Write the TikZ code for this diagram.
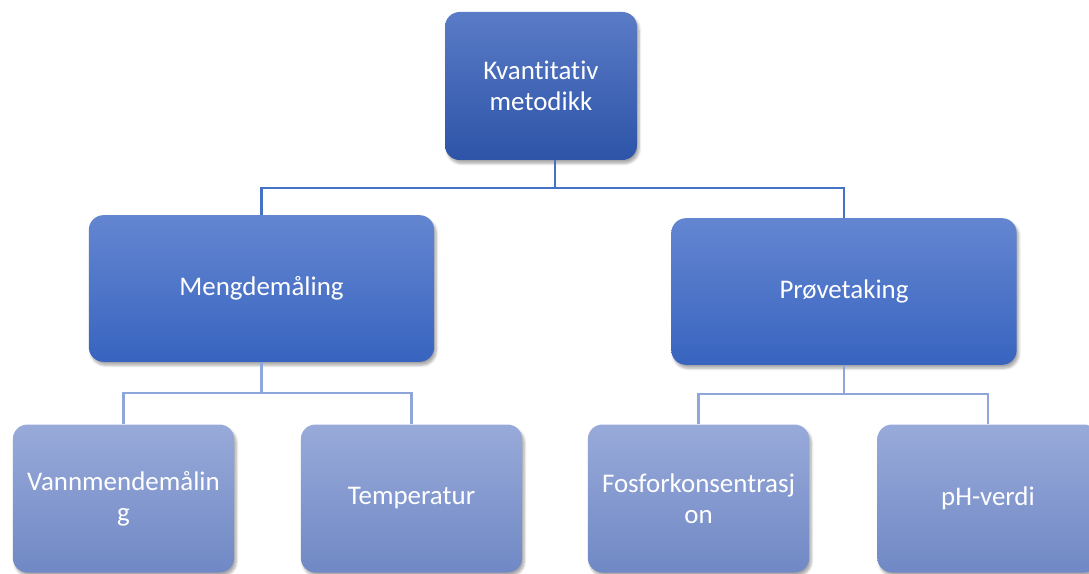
\documentclass[tikz,border=0pt]{standalone}
\usepackage{fontspec}
\setmainfont{Carlito}[Ligatures=NoCommon]
\usetikzlibrary{calc, shadows.blur}
\definecolor{topfill}{HTML}{5A7BC6}
\definecolor{topbase}{HTML}{2D54A8}
\definecolor{midfill}{HTML}{6486D1}
\definecolor{midbase}{HTML}{3864BF}
\definecolor{lowfill}{HTML}{98AAD9}
\definecolor{lowbase}{HTML}{7088C5}
\definecolor{linedark}{HTML}{4472C4}
\definecolor{linelight}{HTML}{8FA6DB}

\tikzset{
  orgbox/.style={rectangle, rounded corners=11pt, align=center, text=white,
    font=\fontsize{20.2}{23.5}\selectfont,
    blur shadow={shadow xshift=1.5pt, shadow yshift=-2.5pt, shadow blur steps=6, shadow opacity=35}},
  headbox/.style={orgbox, top color=topfill, bottom color=topbase,
    minimum width=144pt, minimum height=111pt},
  groupbox/.style={orgbox, top color=midfill, bottom color=midbase,
    minimum width=259pt, minimum height=110pt},
  leafbox/.style={orgbox, top color=lowfill, bottom color=lowbase,
    minimum width=166pt, minimum height=111pt, text width=150pt},
  conn/.style={line width=1.6pt},
}

\begin{document}
\begin{tikzpicture}[x=0.75pt, y=-0.75pt]
  \useasboundingbox (0,0) rectangle (1089,574);
  % Boxes
  \node[headbox] (top) at (541,86) {Kvantitativ\\metodikk};
  \node[groupbox] (meng) at (261.5,288.5) {Mengdemåling};
  \node[groupbox] (prove) at (844,291.5) {Prøvetaking};
  \node[leafbox] (vann) at (123.5,498.5) {Vannmendemålin\\g};
  \node[leafbox] (temp) at (411.5,498.5) {Temperatur};
  \node[leafbox] (fosfor) at (698.5,498.5) {Fosforkonsentrasj\\on};
  \node[leafbox] (ph) at (988,498.5) {pH-verdi};
  % Connectors, level 1
  \coordinate (topjoin) at ($(top.south)+(14,0)$);
  \draw[conn, linedark] (topjoin) -- ++(0,28) coordinate (bus1);
  \draw[conn, linedark] (meng.north) |- (bus1) -| (prove.north);
  % Connectors, level 2
  \draw[conn, linelight] (meng.south) -- ++(0,31) coordinate (bus2);
  \draw[conn, linelight] (vann.north) |- (bus2) -| (temp.north);
  \draw[conn, linelight] (prove.south) -- ++(0,29) coordinate (bus3);
  \draw[conn, linelight] (fosfor.north) |- (bus3) -| (ph.north);
\end{tikzpicture}
\end{document}
